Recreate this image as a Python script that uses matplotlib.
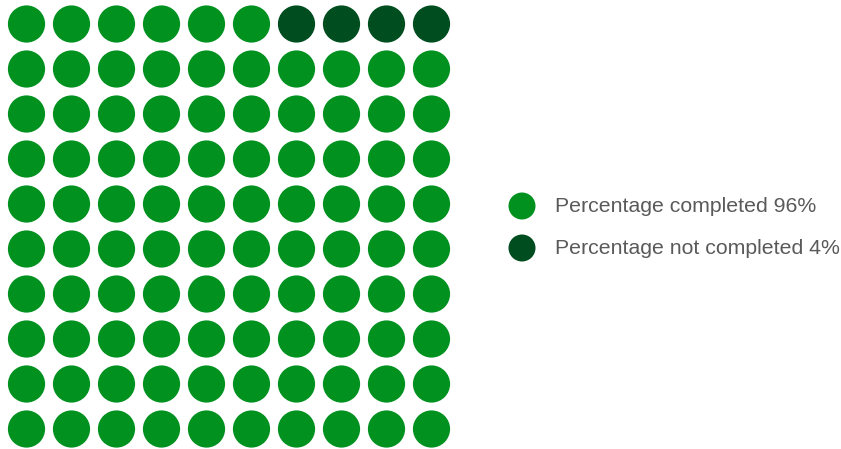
import matplotlib.pyplot as plt
from matplotlib.patches import Circle

labels = ["Percentage completed", "Percentage not completed"]
values = [96, 4]
colors = ["#00911f", "#004d1f"]

plt.rcParams['font.family'] = ['Liberation Sans', 'DejaVu Sans']

fig = plt.figure(figsize=(8.41, 4.49), dpi=100)
ax = fig.add_axes([0, 0, 1, 1])
ax.set_xlim(0, 841)
ax.set_ylim(449, 0)
ax.set_aspect('equal')
ax.axis('off')

# 10x10 waffle, filled from bottom-left row by row
n_cols, n_rows = 10, 10
x0, y0, step, r = 26.5, 24, 45, 18.6
cells = []
for lab, v, c in zip(labels, values, colors):
    cells += [c] * v
for k, c in enumerate(cells):
    row = n_rows - 1 - k // n_cols
    col = k % n_cols
    ax.add_patch(Circle((x0 + col * step, y0 + row * step), r, color=c, lw=0))

# legend
for i, (lab, v, c) in enumerate(zip(labels, values, colors)):
    y = 206 + i * 42
    ax.add_patch(Circle((522, y), 13.5, color=c, lw=0))
    ax.text(555, y, f"{lab} {v}%", fontsize=15.3, color="#5a5a5a",
            va='center', ha='left')

fig.savefig("out.png", dpi=100)
